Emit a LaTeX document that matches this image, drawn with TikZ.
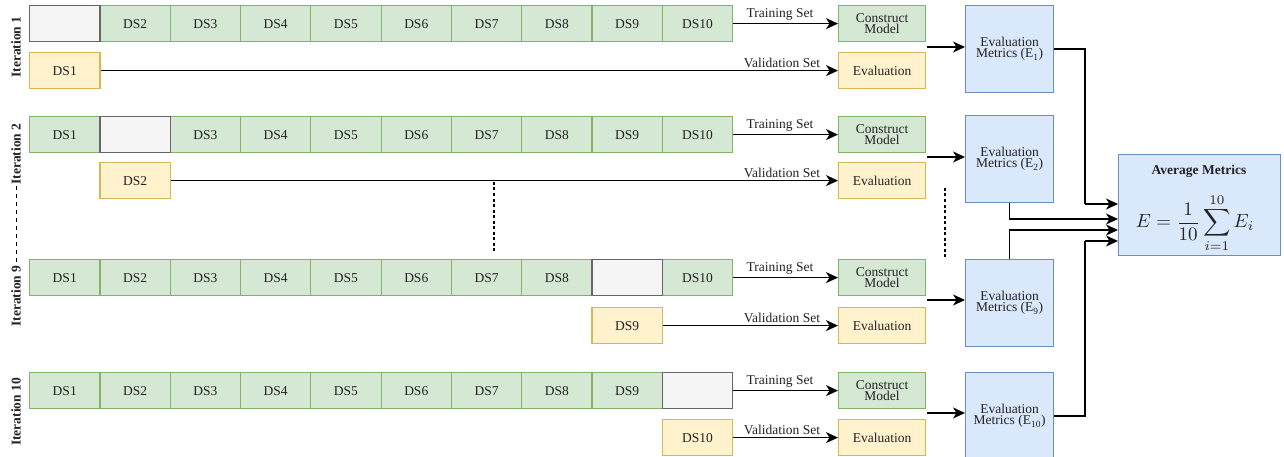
\documentclass[tikz,border=0pt]{standalone}
\usepackage{fontspec}
\usepackage{amsmath}
\setmainfont{Liberation Serif}
\usetikzlibrary{arrows.meta,calc}

\definecolor{gfill}{HTML}{D5E8D4}
\definecolor{gdraw}{HTML}{82B366}
\definecolor{yfill}{HTML}{FFF2CC}
\definecolor{ydraw}{HTML}{D6B656}
\definecolor{bfill}{HTML}{DAE8FC}
\definecolor{bdraw}{HTML}{6C8EBF}
\definecolor{efill}{HTML}{F5F5F5}
\definecolor{edraw}{HTML}{666666}
\definecolor{ink}{HTML}{222222}

\tikzset{
  box/.style={draw, line width=1.2pt, inner sep=0pt, anchor=north west, align=center,
    text=ink, font=\fontsize{13.5}{11.5}\selectfont},
  train/.style={box, fill=gfill, draw=gdraw, minimum width=70.3pt, minimum height=36pt},
  gapcell/.style={box, fill=efill, draw=edraw, minimum width=70.3pt, minimum height=36pt},
  valid/.style={box, fill=yfill, draw=ydraw, minimum width=70.3pt, minimum height=36pt},
  model/.style={box, fill=gfill, draw=gdraw, minimum width=87pt, minimum height=36pt},
  evalbox/.style={box, fill=yfill, draw=ydraw, minimum width=87pt, minimum height=36pt},
  metric/.style={box, fill=bfill, draw=bdraw, minimum width=88pt, minimum height=87pt,
    font=\fontsize{13.5}{11}\selectfont},
  lbl/.style={inner sep=2.5pt, text=ink, font=\fontsize{13.5}{14}\selectfont},
  itlbl/.style={inner sep=1pt, rotate=90, text=ink, font=\fontsize{13.5}{14}\selectfont\bfseries},
  arr/.style={line width=1.3pt, -{Stealth[length=12pt,width=11pt,inset=3.5pt]}},
  link/.style={line width=1.3pt},
  gapline/.style={line width=1.2pt, dash pattern=on 3pt off 2.5pt},
  sideline/.style={line width=1pt, dash pattern=on 4pt off 4pt},
}

% one row of ten folds; the held-out fold (#3) is left empty
\newcommand\dsrow[3]{%
  \foreach \i in {1,...,10}{%
    \ifnum\i=#3\relax\else
      \node[train] (#1-\i) at ({29+(\i-1)*70.3},#2) {DS\i};
    \fi}%
  \node[gapcell] (#1-#3) at ({29+(#3-1)*70.3},#2) {};}

\begin{document}
\begin{tikzpicture}[x=1pt,y=-1pt]
\useasboundingbox (0,0) rectangle (1284,457);

% ---- fold rows ----
\dsrow{r1}{5}{1}
\dsrow{r2}{116}{2}
\dsrow{r9}{259}{9}
\dsrow{r10}{372}{10}

% ---- held-out validation folds ----
\node[valid] (v1)  at ({29+0*70.3},52)  {DS1};
\node[valid] (v2)  at ({29+1*70.3},162) {DS2};
\node[valid] (v9)  at ({29+8*70.3},307) {DS9};
\node[valid] (v10) at ({29+9*70.3},419) {DS10};

% ---- model and evaluation steps ----
\foreach \k/\t/\b in {1/5/52, 2/116/162, 9/259/307, 10/372/419}{
  \node[model]   (c\k) at (838,\t) {Construct\\Model};
  \node[evalbox] (e\k) at (838,\b) {Evaluation};
}

% ---- per-iteration metrics ----
\node[metric] (m1)  at (965,5)   {Evaluation\\Metrics (E\textsubscript{1})};
\node[metric] (m2)  at (965,115) {Evaluation\\Metrics (E\textsubscript{2})};
\node[metric] (m9)  at (965,259) {Evaluation\\Metrics (E\textsubscript{9})};
\node[metric] (m10) at (965,372) {Evaluation\\Metrics (E\textsubscript{10})};

% ---- average ----
\node[metric, minimum width=162pt, minimum height=101pt] (avg) at (1118,154) {};
\node[inner sep=1pt, text=ink, font=\fontsize{13.5}{14}\selectfont\bfseries] (avgt) at (1199,171) {Average Metrics};
\node[inner sep=0pt, text=ink, scale=1.9] (avgf) at (1195,223) {$\displaystyle E=\frac{1}{10}\sum_{i=1}^{10}E_i$};

% ---- training / validation arrows ----
\foreach \k in {1,2,9,10}{
  \draw[arr] (r\k-10.east) -- (c\k.west)
    node[lbl, pos=1, above, xshift=-58pt] {Training Set};
  \draw[arr] (v\k.east) -- (e\k.west)
    node[lbl, pos=1, above, xshift=-56pt] {Validation Set};
}

% ---- into the metric boxes ----
\coordinate (s1)  at (927,47);
\coordinate (s2)  at (927,157);
\coordinate (s9)  at (927,300);
\coordinate (s10) at (927,413);
\foreach \k in {1,2,9,10}{
  \draw[arr] (s\k) -- (s\k -| m\k.west);
}

% ---- metrics to the average ----
\coordinate (j1)  at (1085,204);
\coordinate (j2)  at (1009,219);
\coordinate (j9)  at (1009,230);
\coordinate (j10) at (1085,241);
\draw[link] (m1.east) -| (j1);
\draw[arr] (j1) -- (j1 -| avg.west);
\draw[arr] (m2.south) |- (j2 -| avg.west);
\draw[arr] (m9.north) |- (j9 -| avg.west);
\draw[link] (m10.east) -| (j10);
\draw[arr] (j10) -- (j10 -| avg.west);

% ---- iteration labels ----
\node[itlbl] (it1)  at (16,47)  {Iteration 1};
\node[itlbl] (it2)  at (16,154) {Iteration 2};
\node[itlbl] (it9)  at (16,296) {Iteration 9};
\node[itlbl] (it10) at (16,412) {Iteration 10};
\draw[sideline] (it2.west) -- (it9.east);

% ---- elided iterations ----
\coordinate (d1a) at (494,182);
\coordinate (d1b) at (494,253);
\coordinate (d2a) at (945,188);
\coordinate (d2b) at (945,258);
\draw[gapline] (d1a) -- (d1b);
\draw[gapline] (d2a) -- (d2b);
\end{tikzpicture}
\end{document}
